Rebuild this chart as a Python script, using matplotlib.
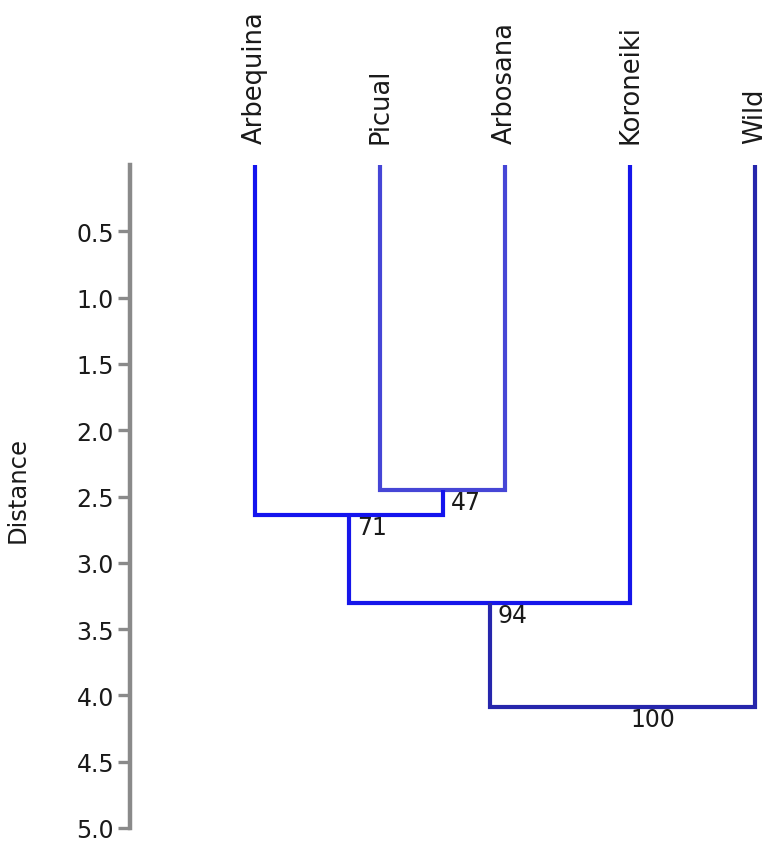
import matplotlib
matplotlib.use("Agg")
import matplotlib.pyplot as plt

# ---- data ----
leaves = ["Arbequina", "Picual", "Arbosana", "Koroneiki", "Wild"]
# merges: children refer to leaf index (0..4) or node index (5+)
merge_left = [1, 0, 6, 7]
merge_right = [2, 5, 3, 4]
merge_height = [2.45, 2.64, 3.30, 4.09]
merge_support = ["47", "71", "94", "100"]
link_colors = ["#4646d6", "#1414ee", "#1616ea", "#2626ac"]
y_ticks = [0.5, 1.0, 1.5, 2.0, 2.5, 3.0, 3.5, 4.0, 4.5, 5.0]
y_label = "Distance"

W, H = 774, 845
fig = plt.figure(figsize=(W / 100, H / 100), dpi=100)
ax = fig.add_axes([130 / W, (H - 829) / H, (W - 130) / W, (829 - 166) / H])

# node positions
xpos = {i: i + 1 for i in range(len(leaves))}
ypos = {i: 0.0 for i in range(len(leaves))}
for k, (a, b, h) in enumerate(zip(merge_left, merge_right, merge_height)):
    node = len(leaves) + k
    xa, xb = xpos[a], xpos[b]
    ax.plot([xa, xa, xb, xb], [ypos[a], h, h, ypos[b]], color=link_colors[k],
            lw=3.0, solid_joinstyle="miter", solid_capstyle="butt", zorder=2)
    xpos[node] = (xa + xb) / 2
    ypos[node] = h
    ax.annotate(merge_support[k], (xpos[node], h), xytext=(6, 0),
                textcoords="offset points", ha="left", va="top",
                fontsize=17, color="#1a1a1a", zorder=3)

for i, name in enumerate(leaves):
    ax.annotate(name, (xpos[i], 0), xytext=(0, 16), textcoords="offset points",
                ha="center", va="bottom", rotation=90, fontsize=18.5,
                color="#1a1a1a", annotation_clip=False)

ax.set_xlim(0, 5.15)
ax.set_ylim(5.0, 0)
ax.set_yticks(y_ticks)
ax.set_yticklabels([f"{v:.1f}" for v in y_ticks])
ax.set_xticks([])
for s in ["top", "right", "bottom"]:
    ax.spines[s].set_visible(False)
ax.spines["left"].set_color("#8a8a8a")
ax.spines["left"].set_linewidth(3.2)
ax.tick_params(axis="y", length=8.5, width=2.4, color="#8a8a8a", pad=3,
               labelsize=17, labelcolor="#1a1a1a")
fig.text(18 / W, 0.5 - (490 - 422.5) / H, y_label, rotation=90, ha="center",
         va="center", fontsize=17.5, color="#1a1a1a")

fig.savefig("out.png", dpi=100)
